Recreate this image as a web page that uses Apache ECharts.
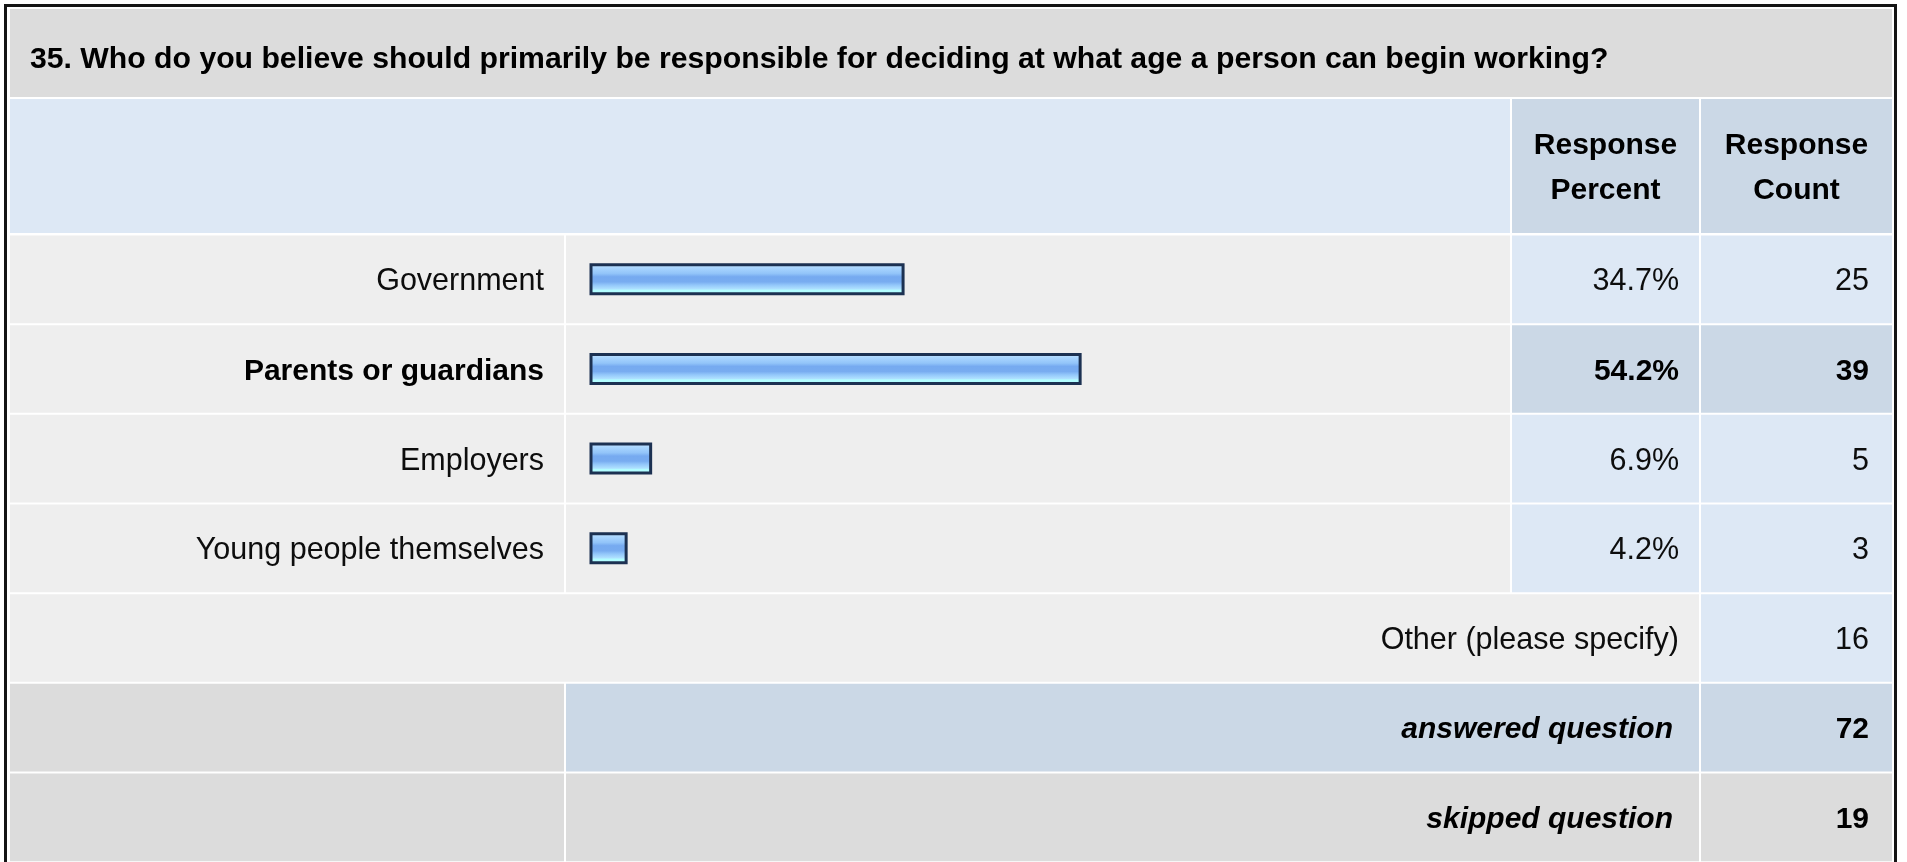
<!DOCTYPE html>
<html><head><meta charset="utf-8">
<script src="https://cdn.jsdelivr.net/npm/echarts@6/dist/echarts.min.js"></script>
<style>html,body{margin:0;padding:0;background:#fff;overflow:hidden}#c{width:1907px;height:862px}</style>
</head><body><div id="c"></div>
<script>
// ---- data ----
const questionTitle = "35. Who do you believe should primarily be responsible for deciding at what age a person can begin working?";
const headerPercent = ["Response", "Percent"];
const headerCount = ["Response", "Count"];
const choices = ["Government", "Parents or guardians", "Employers", "Young people themselves"];
const responsePercent = [34.7, 54.2, 6.9, 4.2];
const responseCount = [25, 39, 5, 3];
const highlightIndex = 1;
const summaryLabels = ["Other (please specify)", "answered question", "skipped question"];
const summaryCounts = [16, 72, 19];

// ---- layout ----
const FONT = "'Liberation Sans', Arial, Helvetica, sans-serif";
const X0 = 10, XL = 564, XB = 566, XBE = 1510, XP = 1512, XPE = 1699, XC = 1701, XR = 1892;
const ROW_TOP = 234.5, PITCH = 89.67, NROWS = choices.length + summaryLabels.length;
const GRID_LEFT = 589.5, GRID_W = 908;
const C_TITLE = '#dcdcdc', C_ROW = '#eeeeee', C_LB = '#dde8f5', C_DB = '#cbd8e6';

const chart = echarts.init(document.getElementById('c'), null, {renderer: 'canvas'});

function rect(x1, y1, x2, y2, fill) {
  return {type: 'rect', z: -5, silent: true, shape: {x: x1, y: y1, width: x2 - x1, height: y2 - y1}, style: {fill: fill}};
}
const g = [];
g.push(rect(X0, 9, XR, 97, C_TITLE));
g.push(rect(X0, 99, XBE, 233, C_LB));
g.push(rect(XP, 99, XPE, 233, C_DB));
g.push(rect(XC, 99, XR, 233, C_DB));
for (let i = 0; i < NROWS; i++) {
  const y1 = ROW_TOP + i * PITCH + 1, y2 = ROW_TOP + (i + 1) * PITCH - 1;
  if (i < choices.length) {
    const c = i === highlightIndex ? C_DB : C_LB;
    g.push(rect(X0, y1, XL, y2, C_ROW));
    g.push(rect(XB, y1, XBE, y2, C_ROW));
    g.push(rect(XP, y1, XPE, y2, c));
    g.push(rect(XC, y1, XR, y2, c));
  } else if (i === choices.length) {
    g.push(rect(X0, y1, XPE, y2, C_ROW));
    g.push(rect(XC, y1, XR, y2, C_LB));
  } else if (i === choices.length + 1) {
    g.push(rect(X0, y1, XL, y2, C_TITLE));
    g.push(rect(XB, y1, XPE, y2, C_DB));
    g.push(rect(XC, y1, XR, y2, C_DB));
  } else {
    g.push(rect(X0, y1, XL, y2, C_TITLE));
    g.push(rect(XB, y1, XPE, y2, C_TITLE));
    g.push(rect(XC, y1, XR, y2, C_TITLE));
  }
}
g.push({type: 'rect', z: 20, silent: true, shape: {x: 5.5, y: 5.5, width: 1890, height: 880}, style: {fill: null, stroke: '#141414', lineWidth: 3}});
function txt(s, x, y, align, weight, size) {
  return {type: 'text', z: 10, silent: true, style: {text: s, x: x, y: y, textAlign: align, textVerticalAlign: 'middle', align: align, verticalAlign: 'middle', fontSize: size || 30, fontWeight: weight, fontFamily: FONT, fill: '#000'}};
}
g.push(txt(questionTitle, 30, 59.5, 'left', 'bold', 30.2));
g.push(txt(headerPercent[0], (XP + XPE) / 2, 146, 'center', 'bold'));
g.push(txt(headerPercent[1], (XP + XPE) / 2, 190.5, 'center', 'bold'));
g.push(txt(headerCount[0], (XC + XR) / 2, 146, 'center', 'bold'));
g.push(txt(headerCount[1], (XC + XR) / 2, 190.5, 'center', 'bold'));

const rich = {
  n: {fontSize: 30.5, fontFamily: FONT, color: '#0d0d0d', padding: [5, 0, 0, 0]},
  b: {fontSize: 30, fontWeight: 'bold', fontFamily: FONT, color: '#000', padding: [5, 0, 0, 0]},
  bi: {fontSize: 30, fontWeight: 'bold', fontStyle: 'italic', fontFamily: FONT, color: '#000', padding: [5, 6, 0, 0]}
};
const nChoices = choices.length;
const percentLabels = responsePercent.map(v => v.toFixed(1) + '%');
const countLabels = responseCount.concat(summaryCounts).map(String);

const baseAxis = {
  type: 'category', inverse: true, z: 5,
  axisLine: {show: false}, axisTick: {show: false}, splitLine: {show: false}
};

chart.setOption({
  animation: false,
  backgroundColor: '#ffffff',
  grid: {left: GRID_LEFT, top: ROW_TOP, width: GRID_W, height: NROWS * PITCH, containLabel: false},
  xAxis: {type: 'value', min: 0, max: 100, show: false},
  yAxis: [
    Object.assign({}, baseAxis, {
      position: 'left', data: choices.concat(summaryLabels),
      axisLabel: {interval: 0, margin: GRID_LEFT - 544, align: 'right', rich: rich,
        formatter: (v, i) => i >= nChoices ? '' : (i === highlightIndex ? '{b|' + v + '}' : '{n|' + v + '}')}
    }),
    Object.assign({}, baseAxis, {
      position: 'right', data: percentLabels.concat(summaryLabels),
      axisLabel: {interval: 0, margin: 1679 - (GRID_LEFT + GRID_W), align: 'right', rich: rich,
        formatter: (v, i) => {
          if (i === highlightIndex) return '{b|' + v + '}';
          if (i > nChoices) return '{bi|' + v + '}';
          return '{n|' + v + '}';
        }}
    }),
    Object.assign({}, baseAxis, {
      position: 'right', data: countLabels,
      axisLabel: {interval: 0, margin: 1869 - (GRID_LEFT + GRID_W), align: 'right', rich: rich,
        formatter: (v, i) => (i === highlightIndex || i > nChoices) ? '{b|' + v + '}' : '{n|' + v + '}'}
    })
  ],
  series: [{
    type: 'bar', yAxisIndex: 0, xAxisIndex: 0, barWidth: 32,
    data: responsePercent,
    itemStyle: {
      borderColor: '#1c3152', borderWidth: 3,
      color: new echarts.graphic.LinearGradient(0, 0, 0, 1, [
        {offset: 0, color: '#d2ebff'},
        {offset: 0.14, color: '#aad6ff'},
        {offset: 0.32, color: '#92c4f9'},
        {offset: 0.42, color: '#76aaf0'},
        {offset: 0.58, color: '#78acf0'},
        {offset: 0.68, color: '#93c7fa'},
        {offset: 0.8, color: '#aee0ff'},
        {offset: 0.84, color: '#b2fdff'},
        {offset: 1, color: '#b2fdff'}
      ])
    },
    silent: true
  }],
  graphic: {elements: g}
});
</script></body></html>
